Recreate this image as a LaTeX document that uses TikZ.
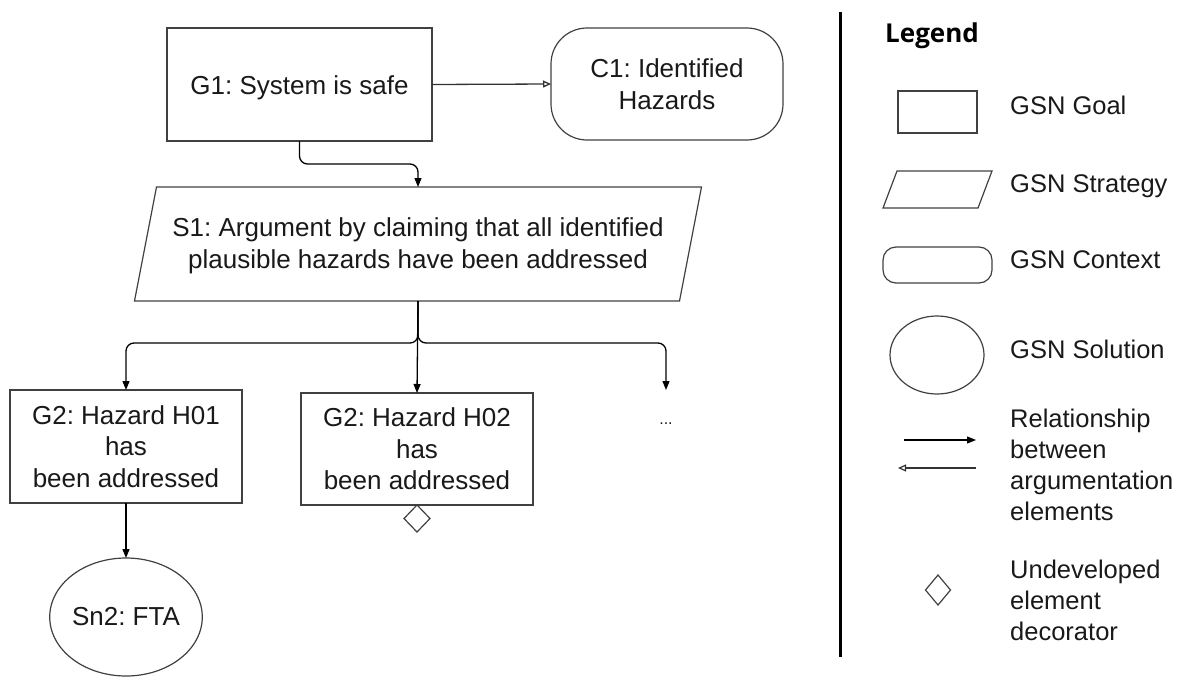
\documentclass[tikz,border=0pt]{standalone}
\usepackage{fontspec}
\setmainfont{Liberation Sans}
\newfontfamily\legendfont{Open Sans}
\usetikzlibrary{shapes.geometric,arrows.meta}
\newcommand\diagfs{\fontsize{26}{31.5}\selectfont}
\newcommand\legfs{\fontsize{25.5}{31}\selectfont}
\frenchspacing
\begin{document}
\begin{tikzpicture}[x=1pt,y=-1pt,
  boxline/.style={draw=black!75, line width=1.2pt},
  goal/.style={boxline, rectangle, inner sep=0pt, outer sep=0pt, align=center, font=\diagfs, text=black!90},
  ctx/.style={goal, rounded corners=36pt},
  sol/.style={boxline, ellipse, inner sep=0pt, outer sep=0pt, align=center, font=\diagfs, text=black!90},
  undev/.style={boxline, diamond, inner sep=0pt, outer sep=0pt},
  arr/.style={draw=black, line width=1.3pt, -{Triangle[length=9pt,width=7pt]}},
  oarr/.style={draw=black!80, line width=1.3pt, -{Triangle[open,length=8pt,width=7pt]}},
  leglabel/.style={anchor=base west, align=left, font=\legfs, text=black!90, inner sep=0pt},
]
\useasboundingbox (0,0) rectangle (1185,677);

% ---------- diagram ----------
\node[goal, minimum width=265pt, minimum height=113pt] (G1) at (299.5,84.5) {\raisebox{-4pt}[18pt][6pt]{G1: System is safe}};
\node[ctx, minimum width=232pt, minimum height=112pt] (C1) at (667,84) {C1: Identified\\Hazards};
\node[inner sep=0pt, outer sep=0pt, minimum width=545pt, minimum height=114pt, align=center, font=\diagfs, text=black!90] (S1) at (418,246)
  {S1: Argument by claiming that all identified\\plausible hazards have been addressed};
\draw[boxline] ([shift={(11pt,2pt)}]S1.north west) -- ([shift={(11pt,2pt)}]S1.north east)
  -- ([shift={(-11pt,2pt)}]S1.south east) -- ([shift={(-11pt,2pt)}]S1.south west) -- cycle;
\coordinate (S1top) at (418,187);
\coordinate (S1bot) at (418,301);
\node[goal, minimum width=232pt, minimum height=113pt] (G2a) at (126,446.5) {G2: Hazard H01\\has\\been addressed};
\node[goal, minimum width=232pt, minimum height=112pt] (G2b) at (417,449) {G2: Hazard H02\\has\\been addressed};
\node[undev, minimum width=26pt, minimum height=27pt, anchor=north] (D1) at (G2b.south) {};
\node[sol, minimum width=126pt, minimum height=118pt] (Sn2) at (126,617) {Sn2: FTA};
\coordinate (more) at (666,390);
\node[font=\diagfs, text=black!90, inner sep=0pt] (dots) at (666,424) {\fontsize{16}{16}\selectfont ...};

\draw[oarr] (G1.east) -- (C1.west);
\draw[arr, rounded corners=8pt] (G1.south) -- ++(0,23) -| (S1top);
\draw[arr, rounded corners=8pt] (S1bot) -- ++(0,42) -| (G2a.north);
\draw[arr] (S1bot) -- (G2b.north);
\draw[arr, rounded corners=8pt] (S1bot) -- ++(0,42) -| (more);
\draw[arr] (G2a.south) -- (Sn2.north);

% ---------- legend ----------
\coordinate (sepTop) at (840,12);
\coordinate (sepBot) at (840,657);
\draw[line width=3pt, black] (sepTop) -- (sepBot);
\node[anchor=base west, inner sep=0pt, font=\legendfont\bfseries\fontsize{26}{30}\selectfont] (legtitle) at (885,43) {Legend};

\node[boxline, rectangle, inner sep=0pt, outer sep=0pt, minimum width=79pt, minimum height=42pt] (lgoal) at (937.5,112) {};
\node[leglabel] (tgoal) at (1010,114) {GSN Goal};

\node[inner sep=0pt, outer sep=0pt, minimum width=95pt, minimum height=37pt] (lstrat) at (937.5,189.5) {};
\draw[boxline] ([xshift=7pt]lstrat.north west) -- ([xshift=7pt]lstrat.north east)
  -- ([xshift=-7pt]lstrat.south east) -- ([xshift=-7pt]lstrat.south west) -- cycle;
\node[leglabel] (tstrat) at (1010,192) {GSN Strategy};

\node[boxline, rectangle, rounded corners=13pt, inner sep=0pt, outer sep=0pt, minimum width=109pt, minimum height=36pt] (lctx) at (937.5,265) {};
\node[leglabel] (tctx) at (1010,268) {GSN Context};

\node[boxline, ellipse, inner sep=0pt, outer sep=0pt, minimum width=94pt, minimum height=78pt] (lsol) at (937,355) {};
\node[leglabel] (tsol) at (1010,358) {GSN Solution};

\coordinate (la1) at (904,440);
\coordinate (la2) at (976,440);
\coordinate (lb1) at (976,468);
\coordinate (lb2) at (898,468);
\draw[arr, line width=1.2pt] (la1) -- (la2);
\draw[oarr, line width=1.2pt] (lb1) -- (lb2);
\node[leglabel] (trel) at (1010,520) {Relationship\\between\\argumentation\\elements};

\node[undev, minimum width=25pt, minimum height=30pt] (ldia) at (938,590) {};
\node[leglabel] (tundev) at (1010,640) {Undeveloped\\element\\decorator};
\end{tikzpicture}
\end{document}
